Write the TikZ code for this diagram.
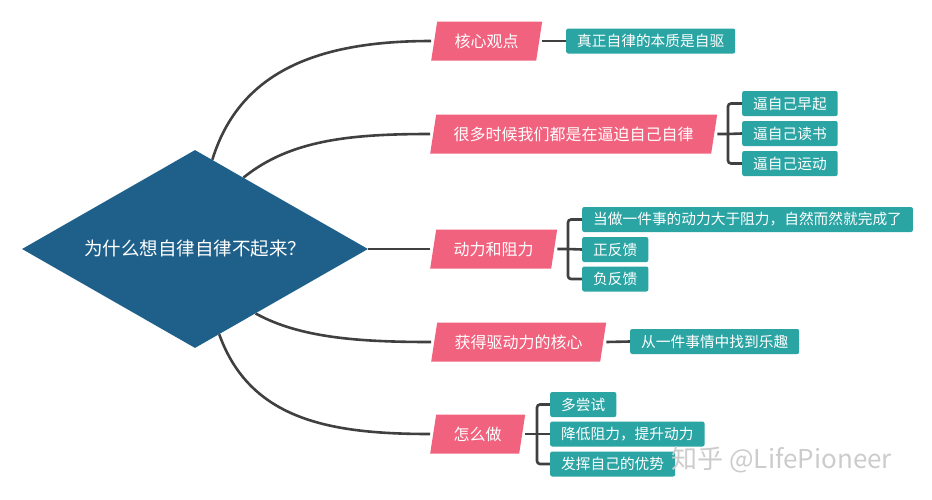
\documentclass[tikz,border=0pt]{standalone}
\usepackage{fontspec}
\setmainfont{Noto Sans CJK SC}
\usetikzlibrary{shapes.geometric,calc,backgrounds}
\definecolor{topicblue}{RGB}{30,96,138}
\definecolor{branchpink}{RGB}{241,98,126}
\definecolor{leafteal}{RGB}{43,164,164}
\definecolor{linegray}{RGB}{64,64,64}
\begin{document}
\begin{tikzpicture}[x=1pt,y=-1pt,
    topic/.style={diamond,aspect=1.747,fill=topicblue,text=white,minimum width=346pt,minimum height=198pt,inner sep=0pt,font=\fontsize{18.5}{20}\selectfont},
    branch/.style={rectangle,text=white,minimum height=39pt,inner xsep=23.5pt,inner ysep=0pt,anchor=west,font=\fontsize{16}{18}\selectfont,
      path picture={\fill[branchpink] (path picture bounding box.south west) -- ([xshift=6pt]path picture bounding box.north west)
        -- (path picture bounding box.north east) -- ([xshift=-6pt]path picture bounding box.south east) -- cycle;}},
    leaf/.style={rectangle,rounded corners=2pt,fill=leafteal,text=white,minimum height=25pt,inner xsep=11pt,inner ysep=0pt,anchor=west,font=\fontsize{14.7}{16}\selectfont},
    link/.style={draw=linegray,line width=2.6pt}]
      \useasboundingbox (0,0) rectangle (932,499);
      \node[topic] (q) at (195,249) {为什么想自律自律不起来？};
      % main branches
      \node[branch] (b1) at (431,41) {核心观点};
      \node[branch] (b2) at (430,134) {很多时候我们都是在逼迫自己自律};
      \node[branch] (b3) at (430,249) {动力和阻力};
      \node[branch] (b4) at (431,342) {获得驱动力的核心};
      \node[branch] (b5) at (430,434) {怎么做};
      % leaves
      \node[leaf] (l1) at (566,41) {真正自律的本质是自驱};
      \node[leaf] (l21) at (742,103.5) {逼自己早起};
      \node[leaf] (l22) at (742,133.5) {逼自己读书};
      \node[leaf] (l23) at (742,163.5) {逼自己运动};
      \node[leaf] (l31) at (582,219.5) {当做一件事的动力大于阻力，自然而然就完成了};
      \node[leaf] (l32) at (582,249.5) {正反馈};
      \node[leaf] (l33) at (582,279) {负反馈};
      \node[leaf] (l4) at (630,341.5) {从一件事情中找到乐趣};
      \node[leaf] (l51) at (550,404.5) {多尝试};
      \node[leaf] (l52) at (550,434) {降低阻力，提升动力};
      \node[leaf] (l53) at (550,464) {发挥自己的优势};
      \node[anchor=west,text=gray!40,font=\fontsize{26}{28}\selectfont] (mark) at (668,460) {知乎 @LifePioneer};
      \coordinate (q1) at ($(q.north)!0.1!(q.east)$);
      \coordinate (q2) at ($(q.north)!0.28!(q.east)$);
      \coordinate (q4) at ($(q.south)!0.35!(q.east)$);
      \coordinate (q5) at ($(q.south)!0.14!(q.east)$);
      \coordinate (k2) at (728,134);
      \coordinate (k3) at (568,249);
      \coordinate (k5) at (537,434);
      \begin{scope}[on background layer]
        \draw[link] (q1) .. controls (240,70) and (320,41) .. (b1.west);
        \draw[link] (q2) .. controls (290,140) and (350,134) .. (b2.west);
        \draw[link] (q.east) -- (b3.west);
        \draw[link] (q4) .. controls (300,338) and (360,342) .. (b4.west);
        \draw[link] (q5) .. controls (250,420) and (330,434) .. (b5.west);
        \draw[link] (b1.east) -- (l1.west);
        \draw[link] (b4.east) -- (l4.west);
        \draw[link] (b2.east) -- (k2) -- (l22.west);
        \draw[link,rounded corners=3pt] (l21.west) -| (k2) |- (l23.west);
        \draw[link] (b3.east) -- (k3) -- (l32.west);
        \draw[link,rounded corners=3pt] (l31.west) -| (k3) |- (l33.west);
        \draw[link] (b5.east) -- (k5) -- (l52.west);
        \draw[link,rounded corners=3pt] (l51.west) -| (k5) |- (l53.west);
      \end{scope}
    \end{tikzpicture}
\end{document}
